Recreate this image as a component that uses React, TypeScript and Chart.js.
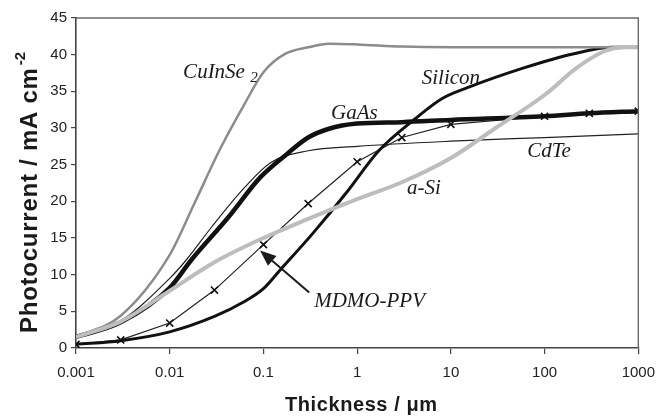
import React, { useEffect, useRef } from 'react';
import { Chart, registerables } from 'chart.js';

Chart.register(...registerables);

// Log-axis ticks (µm) and their printed labels
const thicknessTicks = [0.001, 0.01, 0.1, 1, 10, 100, 1000];
const thicknessLabels = ['0.001', '0.01', '0.1', '1', '10', '100', '1000'];

// Photocurrent (mA cm^-2) versus absorber thickness (µm)
const aSiX = [0.001, 0.003, 0.01, 0.03, 0.1, 0.3, 1, 3, 10, 30, 100, 220, 440, 700, 1000];
const aSiY = [1.5, 3.6, 7.8, 11.7, 15.0, 17.6, 20.3, 22.6, 25.9, 30.0, 34.5, 38.2, 40.5, 41.0, 41.0];

const cuInSe2X = [0.001, 0.003, 0.01, 0.018, 0.035, 0.063, 0.1, 0.17, 0.3, 0.5, 1, 3, 10, 100, 1000];
const cuInSe2Y = [1.5, 4.4, 12.7, 19.5, 27.3, 33.3, 37.6, 40.1, 41.0, 41.5, 41.4, 41.1, 41.0, 41.0, 41.0];

const gaAsX = [0.001, 0.003, 0.01, 0.017, 0.042, 0.093, 0.18, 0.3, 0.5, 1, 3, 10, 100, 300, 1000];
const gaAsY = [1.5, 3.5, 8.2, 12.0, 17.8, 23.3, 26.5, 28.7, 29.9, 30.6, 30.8, 31.1, 31.6, 32.0, 32.3];

const siliconX = [0.001, 0.003, 0.01, 0.03, 0.06, 0.1, 0.15, 0.34, 0.77, 1.7, 4.2, 8, 15, 60, 200, 540, 1000];
const siliconY = [0.5, 1.0, 2.2, 4.3, 6.2, 8.1, 10.6, 15.7, 21.2, 26.9, 31.3, 34.0, 35.5, 38.2, 40.1, 41.0, 41.0];

const cdTeX = [0.001, 0.003, 0.01, 0.015, 0.028, 0.063, 0.12, 0.3, 1, 10, 100, 1000];
const cdTeY = [1.5, 3.7, 9.5, 12.0, 16.5, 21.9, 25.3, 26.9, 27.5, 28.2, 28.7, 29.2];

const mdmoX = [0.001, 0.003, 0.01, 0.03, 0.1, 0.3, 1, 3, 10, 100, 300, 1000];
const mdmoY = [0.5, 1.1, 3.4, 7.9, 14.1, 19.7, 25.4, 28.7, 30.5, 31.6, 32.0, 32.3];

// In-plot series names, anchored in data coordinates (left edge, vertical middle)
const seriesNames = [
  { text: 'GaAs', x: 0.526, y: 32.0 },
  { text: 'Silicon', x: 4.89, y: 36.8 },
  { text: 'CdTe', x: 65.4, y: 26.8 },
  { text: 'a-Si', x: 3.4, y: 21.8 },
  { text: 'MDMO-PPV', x: 0.348, y: 6.35 },
];
const cuInSe2Name = { text: 'CuInSe', sub: '2', x: 0.0139, y: 37.6 };
const mdmoArrow = { fromX: 0.308, fromY: 7.57, toX: 0.092, toY: 13.3 };

const pts = (xs: number[], ys: number[]) => xs.map((x, i) => ({ x, y: ys[i] }));

const SANS = '"Liberation Sans", Arial, Helvetica, sans-serif';
const SERIF = '"Liberation Serif", "Times New Roman", serif';

function fitText(ctx: CanvasRenderingContext2D, text: string, x: number, y: number, width: number) {
  (ctx as any).letterSpacing = '0px';
  const w = ctx.measureText(text).width;
  const extra = (width - w) / Math.max(1, text.length - 1);
  (ctx as any).letterSpacing = `${extra.toFixed(2)}px`;
  ctx.fillText(text, x, y);
  const drawn = ctx.measureText(text).width;
  (ctx as any).letterSpacing = '0px';
  return drawn;
}

const decorations = {
  id: 'decorations',
  afterDraw(chart: any) {
    const { ctx, chartArea: a, scales } = chart;
    const xs = scales.x;
    const ys = scales.y;
    ctx.save();

    // top and right frame of the plot box
    ctx.strokeStyle = '#6a6a6a';
    ctx.lineWidth = 1.4;
    ctx.beginPath();
    ctx.moveTo(a.left, a.top);
    ctx.lineTo(a.right, a.top);
    ctx.lineTo(a.right, a.bottom);
    ctx.stroke();

    // series names
    ctx.fillStyle = '#1a1a1a';
    ctx.textAlign = 'left';
    ctx.textBaseline = 'middle';
    ctx.font = `italic 21px ${SERIF}`;
    for (const n of seriesNames) {
      ctx.fillText(n.text, xs.getPixelForValue(n.x), ys.getPixelForValue(n.y));
    }
    const cx = xs.getPixelForValue(cuInSe2Name.x);
    const cy = ys.getPixelForValue(cuInSe2Name.y);
    ctx.fillText(cuInSe2Name.text, cx, cy);
    const cw = ctx.measureText(cuInSe2Name.text + ' ').width;
    ctx.font = `italic 15px ${SERIF}`;
    ctx.fillText(cuInSe2Name.sub, cx + cw, cy + 6);

    // arrow pointing at the MDMO-PPV curve
    const x0 = xs.getPixelForValue(mdmoArrow.fromX);
    const y0 = ys.getPixelForValue(mdmoArrow.fromY);
    const x1 = xs.getPixelForValue(mdmoArrow.toX);
    const y1 = ys.getPixelForValue(mdmoArrow.toY);
    const ang = Math.atan2(y1 - y0, x1 - x0);
    const head = 16;
    const half = 6.5;
    const bx = x1 - head * Math.cos(ang);
    const by = y1 - head * Math.sin(ang);
    ctx.strokeStyle = '#1a1a1a';
    ctx.lineWidth = 2;
    ctx.beginPath();
    ctx.moveTo(x0, y0);
    ctx.lineTo(bx, by);
    ctx.stroke();
    ctx.fillStyle = '#1a1a1a';
    ctx.beginPath();
    ctx.moveTo(x1, y1);
    ctx.lineTo(bx + half * Math.sin(ang), by - half * Math.cos(ang));
    ctx.lineTo(bx - half * Math.sin(ang), by + half * Math.cos(ang));
    ctx.closePath();
    ctx.fill();

    // axis titles
    ctx.fillStyle = '#1a1a1a';
    ctx.textBaseline = 'alphabetic';
    ctx.font = `bold 20px ${SANS}`;
    fitText(ctx, 'Thickness / μm', 285, 411, 152);

    ctx.save();
    ctx.translate(37, 333);
    ctx.rotate(-Math.PI / 2);
    ctx.font = `bold 24px ${SANS}`;
    const tw = fitText(ctx, 'Photocurrent / mA cm', 0, 0, 265);
    ctx.font = `bold 15px ${SANS}`;
    ctx.fillText('-2', tw + 2, -12);
    ctx.restore();

    ctx.restore();
  },
};

export default function App() {
  const canvasRef = useRef<HTMLCanvasElement | null>(null);

  useEffect(() => {
    document.body.style.margin = '0';
    const canvas = canvasRef.current;
    if (!canvas) return;

    const line = (label: string, xs: number[], ys: number[], color: string, width: number) => ({
      label,
      data: pts(xs, ys),
      borderColor: color,
      backgroundColor: color,
      borderWidth: width,
      pointRadius: 0,
      fill: false,
      cubicInterpolationMode: 'monotone' as const,
    });

    const chart = new Chart(canvas, {
      type: 'line',
      data: {
        datasets: [
          line('a-Si', aSiX, aSiY, '#bdbdbd', 4),
          line('CuInSe2', cuInSe2X, cuInSe2Y, '#8c8c8c', 2.5),
          line('GaAs', gaAsX, gaAsY, '#111111', 4.5),
          line('Silicon', siliconX, siliconY, '#111111', 3),
          line('CdTe', cdTeX, cdTeY, '#222222', 1.2),
          {
            label: 'MDMO-PPV',
            data: pts(mdmoX, mdmoY),
            borderColor: '#222222',
            backgroundColor: '#222222',
            borderWidth: 1.2,
            tension: 0,
            pointStyle: 'crossRot',
            pointRadius: 5,
            pointBorderWidth: 1.6,
            pointBorderColor: '#111111',
            fill: false,
          },
        ],
      },
      options: {
        responsive: false,
        animation: false,
        layout: { padding: { top: 18, right: 18, left: 0, bottom: 0 } },
        plugins: {
          legend: { display: false },
          tooltip: { enabled: false },
        },
        scales: {
          x: {
            type: 'logarithmic',
            min: 0.001,
            max: 1000,
            afterFit: (s: any) => {
              s.height = 70;
            },
            afterBuildTicks: (s: any) => {
              s.ticks = thicknessTicks.map((v) => ({ value: v }));
            },
            ticks: {
              autoSkip: false,
              maxRotation: 0,
              padding: 10,
              color: '#222',
              font: { family: SANS, size: 15 },
              callback: (v: any) => {
                const i = thicknessTicks.findIndex((t) => Math.abs(t - Number(v)) < t * 1e-6);
                return i >= 0 ? thicknessLabels[i] : '';
              },
            },
            grid: { drawOnChartArea: false, tickLength: 6, color: '#444', lineWidth: 1.2 },
            border: { color: '#444', width: 1.6 },
          },
          y: {
            min: 0,
            max: 45,
            afterFit: (s: any) => {
              s.width = 76;
            },
            ticks: {
              stepSize: 5,
              padding: 4,
              color: '#222',
              font: { family: SANS, size: 15 },
            },
            grid: { drawOnChartArea: false, tickLength: 5, color: '#444', lineWidth: 1.2 },
            border: { color: '#444', width: 1.6 },
          },
        },
      },
      plugins: [decorations],
    });

    return () => chart.destroy();
  }, []);

  return (
    <div style={{ width: 665, height: 418, background: '#fff' }}>
      <canvas ref={canvasRef} width={665} height={418} style={{ display: 'block' }} />
    </div>
  );
}
